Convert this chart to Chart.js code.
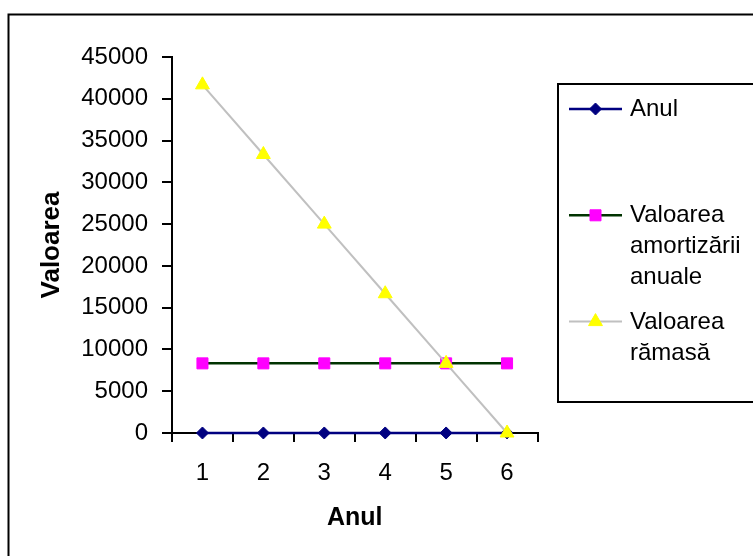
<!DOCTYPE html>
<html>
<head>
<meta charset="utf-8">
<title>Valoarea rămasă</title>
<script src="https://cdn.jsdelivr.net/npm/chart.js@4.4.1/dist/chart.umd.min.js"></script>
<style>
  html, body { margin: 0; padding: 0; background: #fff; }
  canvas { display: block; }
</style>
</head>
<body>
<canvas id="chart" width="753" height="556"></canvas>
<script>
// Years of the depreciation schedule (category axis)
const years = ['1', '2', '3', '4', '5', '6'];

// Series values
const anul = [1, 2, 3, 4, 5, 6];
const amortizareAnuala = [8333.33, 8333.33, 8333.33, 8333.33, 8333.33, 8333.33];
const valoareRamasa = [41666.67, 33333.33, 25000, 16666.67, 8333.33, 0];

// Value axis ticks
const yTicks = [0, 5000, 10000, 15000, 20000, 25000, 30000, 35000, 40000, 45000];

// Legend text, one entry per series, split into lines
const legendLines = [
  ['Anul'],
  ['Valoarea', 'amortizării', 'anuale'],
  ['Valoarea', 'rămasă']
];

const FONT = "'Liberation Sans', Arial, Helvetica, sans-serif";

// White background, outer frame and the boxed legend on the right
const framePlugin = {
  id: 'frame',
  beforeDraw(chart) {
    const ctx = chart.ctx;
    ctx.save();
    ctx.fillStyle = '#ffffff';
    ctx.fillRect(0, 0, chart.width, chart.height);
    ctx.restore();
  },
  afterDraw(chart) {
    const ctx = chart.ctx;
    ctx.save();
    ctx.strokeStyle = '#000000';
    ctx.lineWidth = 2;
    ctx.strokeRect(8.5, 14.5, 800, 600);
    ctx.strokeRect(558, 84, 260, 318);

    chart.data.datasets.forEach((ds, i) => {
      const y = 109 + i * 106.3;
      ctx.strokeStyle = ds.borderColor;
      ctx.lineWidth = ds.borderWidth;
      ctx.beginPath();
      ctx.moveTo(569, y);
      ctx.lineTo(622, y);
      ctx.stroke();

      ctx.fillStyle = ds.pointBackgroundColor;
      ctx.strokeStyle = ds.pointBorderColor;
      ctx.lineWidth = ds.pointBorderWidth;
      Chart.helpers.drawPoint(ctx, {
        pointStyle: ds.pointStyle,
        radius: ds.pointRadius,
        borderWidth: ds.pointBorderWidth,
        rotation: 0
      }, 595.5, y);

      ctx.fillStyle = '#000000';
      ctx.font = '24px ' + FONT;
      ctx.textAlign = 'left';
      ctx.textBaseline = 'alphabetic';
      legendLines[i].forEach((line, k) => {
        ctx.fillText(line, 630, y + 7 + k * 31);
      });
    });
    ctx.restore();
  }
};

new Chart(document.getElementById('chart'), {
  type: 'line',
  data: {
    labels: years,
    datasets: [
      {
        label: legendLines[0].join(' '),
        data: anul,
        borderColor: '#000080',
        borderWidth: 2.5,
        pointStyle: 'rectRot',
        pointRadius: 6,
        pointBackgroundColor: '#000080',
        pointBorderColor: '#000080',
        pointBorderWidth: 1,
        clip: false,
        order: 2
      },
      {
        label: legendLines[1].join(' '),
        data: amortizareAnuala,
        borderColor: '#003300',
        borderWidth: 2.5,
        pointStyle: 'rect',
        pointRadius: 7.8,
        pointBackgroundColor: '#ff00ff',
        pointBorderColor: '#ff00ff',
        pointBorderWidth: 1,
        clip: false,
        order: 1
      },
      {
        label: legendLines[2].join(' '),
        data: valoareRamasa,
        borderColor: '#c0c0c0',
        borderWidth: 2,
        pointStyle: 'triangle',
        pointRadius: 8,
        pointBackgroundColor: '#ffff00',
        pointBorderColor: '#ffff00',
        pointBorderWidth: 1,
        clip: false,
        order: 0
      }
    ]
  },
  options: {
    responsive: false,
    animation: false,
    events: [],
    layout: { padding: { left: 0, right: 215.5, top: 57, bottom: 0 } },
    elements: { line: { tension: 0 } },
    plugins: {
      legend: { display: false },
      tooltip: { enabled: false }
    },
    scales: {
      x: {
        type: 'category',
        offset: true,
        grid: {
          offset: true,
          drawOnChartArea: false,
          drawTicks: true,
          tickLength: 9,
          color: '#000000',
          lineWidth: 2
        },
        border: { display: true, color: '#000000', width: 2 },
        ticks: {
          color: '#000000',
          font: { family: FONT, size: 24 },
          padding: 17,
          maxRotation: 0
        },
        title: {
          display: true,
          text: 'Anul',
          color: '#000000',
          font: { family: FONT, size: 25, weight: 'bold' },
          padding: { top: 0, bottom: 23 }
        },
        afterFit(scale) { scale.height = 123; }
      },
      y: {
        min: 0,
        max: 45000,
        grid: {
          drawOnChartArea: false,
          drawTicks: true,
          tickLength: 10,
          color: '#000000',
          lineWidth: 2
        },
        border: { display: true, color: '#000000', width: 2 },
        afterBuildTicks(scale) {
          scale.ticks = yTicks.map(v => ({ value: v }));
        },
        ticks: {
          color: '#000000',
          font: { family: FONT, size: 24 },
          padding: 14,
          callback: v => String(v)
        },
        title: {
          display: true,
          text: 'Valoarea',
          color: '#000000',
          font: { family: FONT, size: 26, weight: 'bold' },
          padding: { top: 36, bottom: 0 }
        },
        afterFit(scale) { scale.width = 172; }
      }
    }
  },
  plugins: [framePlugin]
});
</script>
</body>
</html>
